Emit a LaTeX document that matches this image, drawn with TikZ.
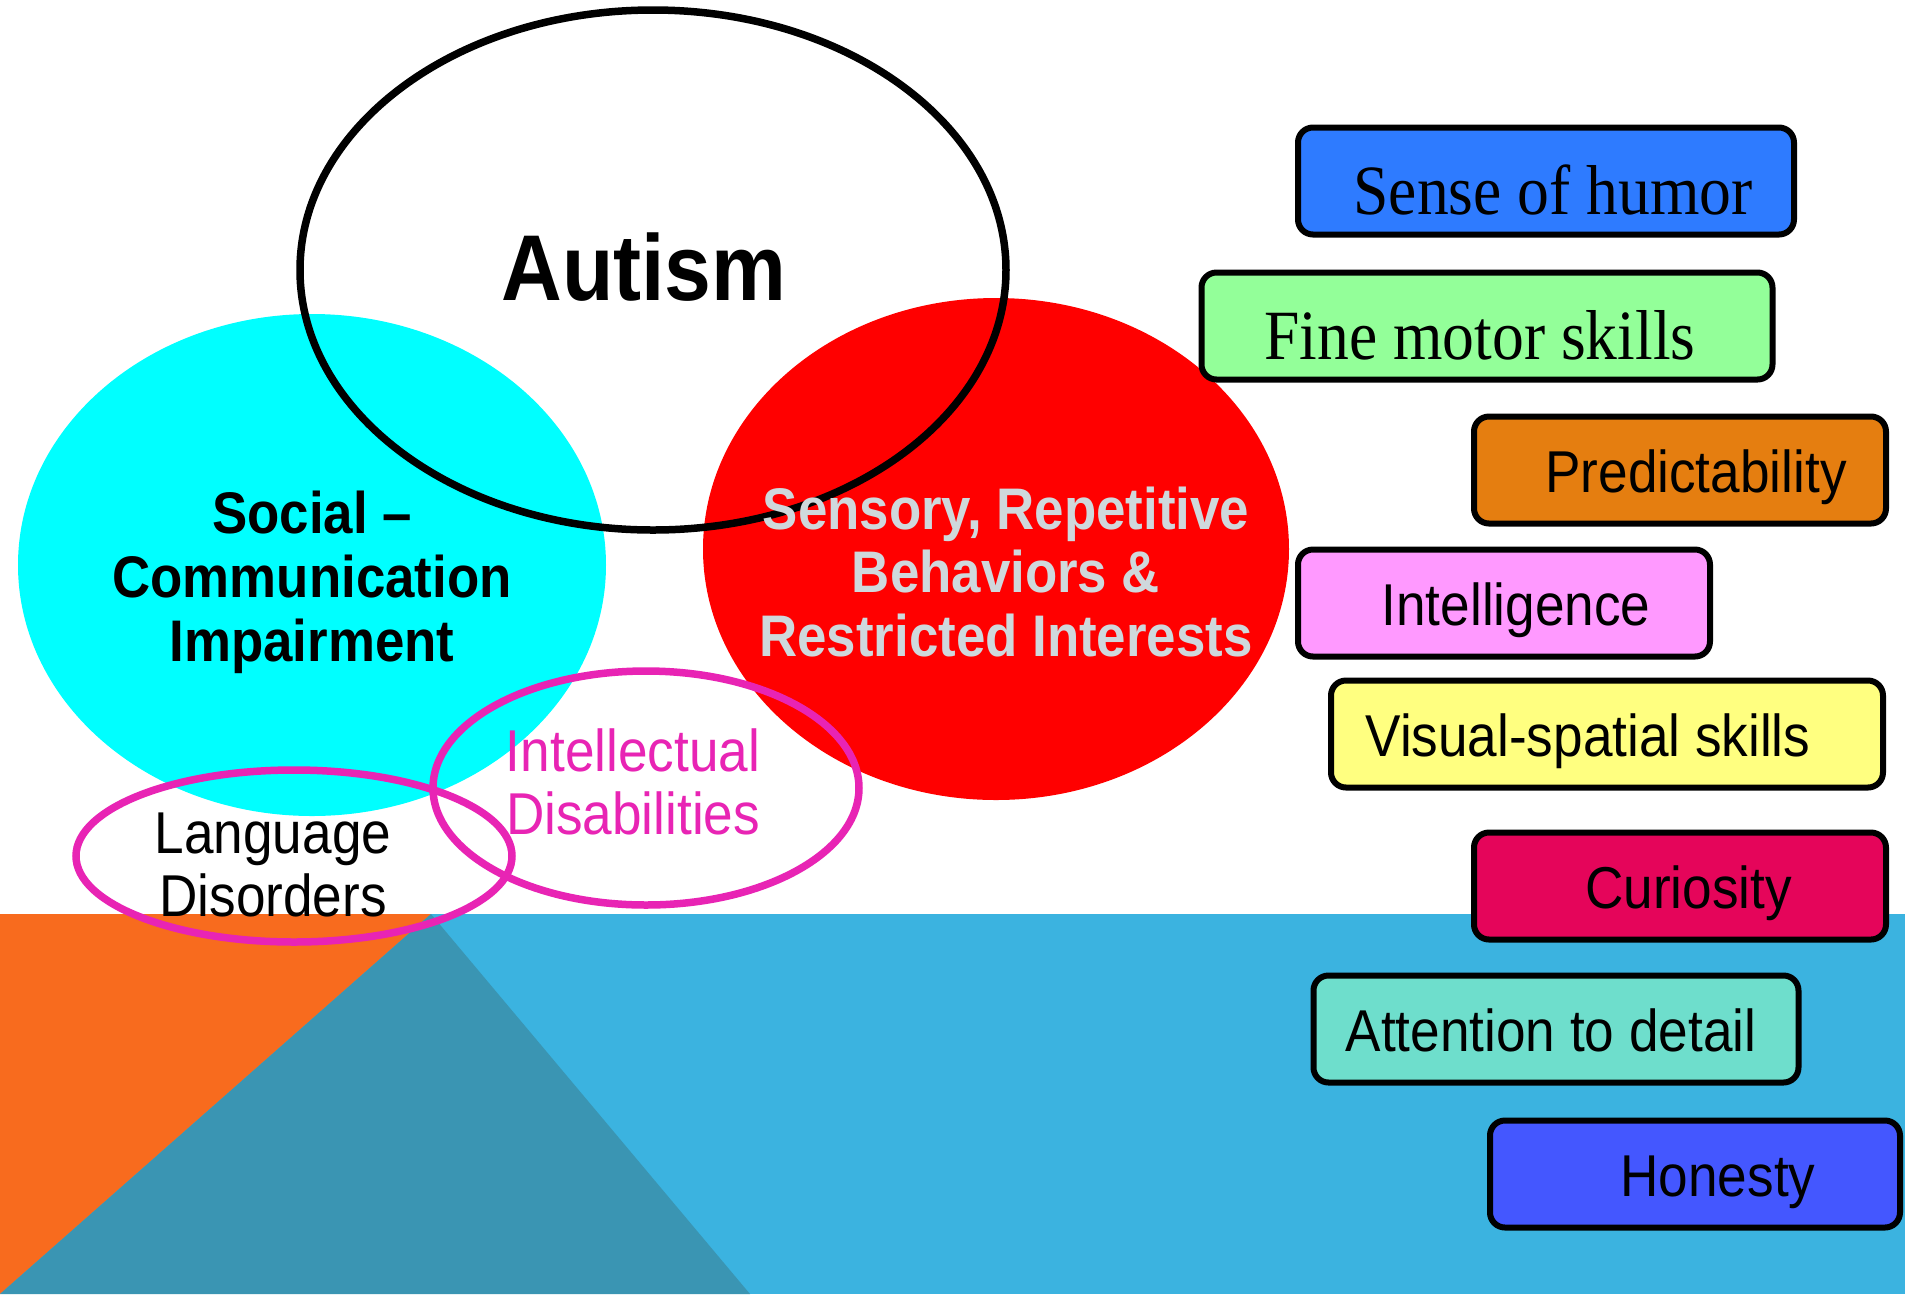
\documentclass[tikz,border=0pt]{standalone}
\usepackage{fontspec}
\usepackage{xcolor}
\usepackage{tikz}
\setmainfont{Liberation Sans}[FakeStretch=0.9]
\newfontfamily\serifface{Liberation Serif}[FakeStretch=0.9]
\definecolor{socialcyan}{HTML}{00FFFF}
\definecolor{sensoryred}{HTML}{FF0000}
\definecolor{sensorytext}{HTML}{CFD8DC}
\definecolor{comorbpink}{HTML}{E824B4}
\definecolor{groundblue}{HTML}{3BB3E0}
\definecolor{groundorange}{HTML}{F86B1E}
\definecolor{groundteal}{HTML}{3A95B3}
\definecolor{humorblue}{HTML}{2E7BFF}
\definecolor{motorgreen}{HTML}{93FF99}
\definecolor{predictorange}{HTML}{E57E10}
\definecolor{intelpink}{HTML}{FF99FF}
\definecolor{visualyellow}{HTML}{FFFF80}
\definecolor{curiousred}{HTML}{E5055A}
\definecolor{detailteal}{HTML}{6EDECC}
\definecolor{honestyblue}{HTML}{4457FF}
\tikzstyle{trait} = [rectangle, rounded corners=1.5mm, draw=black, line width=0.6mm, minimum height=10.7mm, text=black, font=\fontsize{16.8}{19}\selectfont, text height=13pt, text depth=0pt]
\tikzstyle{seriftrait} = [trait, font=\serifface\fontsize{20.1}{22}\selectfont, text height=19pt]
\tikzstyle{ring} = [line width=0.75mm]
\tikzstyle{areatext} = [font=\bfseries\fontsize{16.7}{18.2}\selectfont, align=center]
\tikzstyle{comorb} = [font=\fontsize{16.8}{18}\selectfont, align=center]

\begin{document}
\begin{tikzpicture}[x=0.1mm, y=-0.1mm]
    \useasboundingbox (0,0) rectangle (1905,1294);
    \fill[white] (0,0) rectangle (1905,1294);

    % ground band
    \fill[groundblue] (0,914) rectangle (1905,1294);
    \fill[groundorange] (0,914) -- (431,914) -- (0,1294) -- cycle;
    \fill[groundteal] (431,914) -- (750,1294) -- (0,1294) -- cycle;

    % core domains
    \fill[socialcyan] (312,565) ellipse (294 and 251);
    \fill[sensoryred] (996,549) ellipse (293 and 251);
    \draw[ring, black] (653,270) ellipse (353 and 260);

    % co-occurring conditions
    \draw[ring, comorbpink] (294,856) ellipse (218 and 86);
    \draw[ring, comorbpink] (646,788) ellipse (213 and 117);

    % Labels
    \node[font=\bfseries\fontsize{26.6}{30}\selectfont] (autism) at (644,267) {Autism};
    \node[areatext] (social) at (312,582) {Social --\\Communication\\Impairment};
    \node[areatext, text=sensorytext] (sensory) at (1006,572) {Sensory, Repetitive\\Behaviors \&\\Restricted Interests};
    \node[comorb] (language) at (273,865) {Language\\Disorders};
    \node[comorb, text=comorbpink] (intellect) at (633,782) {Intellectual\\Disabilities};

    % strengths (hspace nudges the text off centre)
    \node[seriftrait, fill=humorblue, minimum width=49.6mm] (humor) at (1546,181) {\hspace*{1.4mm}Sense of humor};
    \node[seriftrait, fill=motorgreen, minimum width=57.1mm] (finemotor) at (1487,326) {Fine motor skills\hspace*{1.4mm}};
    \node[trait, fill=predictorange, minimum width=41.2mm] (predict) at (1680,470) {\hspace*{3.2mm}Predictability};
    \node[trait, fill=intelpink, minimum width=41.2mm] (intel) at (1504,603) {\hspace*{2.4mm}Intelligence};
    \node[trait, fill=visualyellow, minimum width=55.2mm] (visual) at (1607,734) {Visual-spatial skills\hspace*{3.8mm}};
    \node[trait, fill=curiousred, minimum width=41.2mm] (curious) at (1680,886) {\hspace*{1.7mm}Curiosity};
    \node[trait, fill=detailteal, minimum width=48.5mm] (detail) at (1556,1029) {Attention to detail\hspace*{1mm}};
    \node[trait, fill=honestyblue, minimum width=41mm] (honesty) at (1695,1174) {\hspace*{4.6mm}Honesty};
\end{tikzpicture}
\end{document}
